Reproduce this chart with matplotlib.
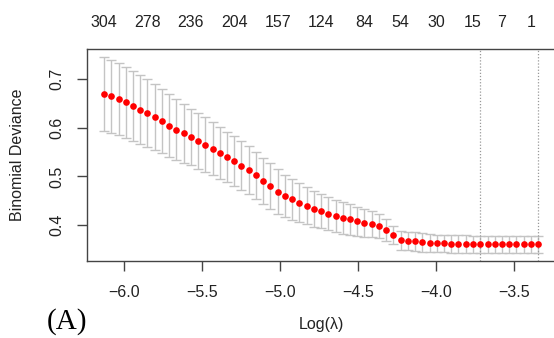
import matplotlib
matplotlib.use("Agg")
import numpy as np
import matplotlib.pyplot as plt

# log(lambda) path of the cv fit
log_lambda = [-6.128, -6.082, -6.035, -5.989, -5.943, -5.896, -5.850, -5.803,
              -5.757, -5.711, -5.664, -5.618, -5.572, -5.525, -5.479, -5.432,
              -5.386, -5.340, -5.293, -5.247, -5.201, -5.154, -5.108, -5.061,
              -5.015, -4.969, -4.922, -4.876, -4.830, -4.783, -4.737, -4.691,
              -4.644, -4.598, -4.551, -4.505, -4.459, -4.412, -4.366, -4.320,
              -4.273, -4.227, -4.181, -4.134, -4.088, -4.041, -3.995, -3.949,
              -3.902, -3.856, -3.810, -3.763, -3.717, -3.670, -3.624, -3.578,
              -3.531, -3.485, -3.439, -3.392, -3.346]

# mean binomial deviance
cvm = [0.669, 0.664, 0.658, 0.652, 0.644, 0.637, 0.630, 0.622, 0.614, 0.604,
       0.596, 0.588, 0.581, 0.573, 0.565, 0.557, 0.548, 0.540, 0.531, 0.522,
       0.513, 0.502, 0.491, 0.480, 0.469, 0.460, 0.453, 0.446, 0.440, 0.434,
       0.429, 0.424, 0.419, 0.415, 0.412, 0.408, 0.405, 0.403, 0.398, 0.390,
       0.380, 0.369, 0.368, 0.367, 0.365, 0.364, 0.363, 0.363, 0.362, 0.362,
       0.362, 0.361, 0.361, 0.361, 0.361, 0.361, 0.361, 0.361, 0.361, 0.361,
       0.361]

# standard error
cvsd = [0.076, 0.075, 0.074, 0.073, 0.072, 0.070, 0.069, 0.068, 0.066, 0.064,
        0.062, 0.060, 0.058, 0.057, 0.056, 0.055, 0.054, 0.052, 0.051, 0.050,
        0.049, 0.048, 0.047, 0.047, 0.046, 0.044, 0.042, 0.040, 0.038, 0.037,
        0.035, 0.034, 0.033, 0.032, 0.031, 0.030, 0.028, 0.027, 0.025, 0.023,
        0.019, 0.019, 0.019, 0.019, 0.019, 0.019, 0.018, 0.018, 0.018, 0.018,
        0.018, 0.018, 0.018, 0.018, 0.018, 0.018, 0.018, 0.018, 0.018, 0.018,
        0.018]

# number of nonzero coefs shown on top axis
nz_idx = [0, 6, 12, 18, 24, 30, 36, 41, 46, 51, 55, 59]
nz_labels = ["304", "278", "236", "204", "157", "124", "84", "54", "30", "15", "7", "1"]

lambda_min = -3.717
lambda_1se = -3.346

x = np.array(log_lambda)
y = np.array(cvm)
se = np.array(cvsd)

plt.rcParams['font.family'] = ['Liberation Sans', 'DejaVu Sans']
fs = 11.5

fig = plt.figure(figsize=(5.54, 3.38), dpi=100)
ax = fig.add_axes([0.1565, 0.228, 0.846, 0.627])

ax.errorbar(x, y, yerr=se, fmt='none', ecolor='#c4c4c4', elinewidth=1.0,
            capsize=3.5, capthick=1.0, zorder=1)
ax.plot(x, y, 'o', color='red', markersize=4.8, markeredgewidth=0, zorder=3)

for v in (lambda_min, lambda_1se):
    ax.axvline(v, color='#999999', linestyle=(0, (1, 1.5)), linewidth=0.9, zorder=2)

ax.set_xlim(-6.239, -3.235)
ax.set_ylim(0.327, 0.761)
ax.set_xticks([-6.0, -5.5, -5.0, -4.5, -4.0, -3.5])
ax.set_xticklabels(["\u22126.0", "\u22125.5", "\u22125.0", "\u22124.5", "\u22124.0", "\u22123.5"])
ax.set_yticks([0.4, 0.5, 0.6, 0.7])
ax.set_yticklabels(["0.4", "0.5", "0.6", "0.7"], rotation=90, va='center')

for s in ax.spines.values():
    s.set_color('#444444')
    s.set_linewidth(1.0)
ax.tick_params(axis='x', length=7, width=1.0, color='#444444',
               labelsize=fs, labelcolor='#222222', pad=10)
ax.tick_params(axis='y', length=7, width=1.0, color='#444444',
               labelsize=fs, labelcolor='#222222', pad=9)

top = ax.secondary_xaxis('top')
top.set_xticks([log_lambda[i] for i in nz_idx])
top.set_xticklabels(nz_labels)
top.tick_params(length=0, labelsize=fs, labelcolor='#222222', pad=14)
top.spines['top'].set_visible(False)

fig.text(18 / 554, 1 - 155 / 338, "Binomial Deviance", fontsize=fs, color='#222222',
         rotation=90, ha='center', va='center')
fig.text(321 / 554, 1 - 325 / 338, "Log(\u03bb)", fontsize=fs, color='#222222',
         ha='center', va='center')

fig.text(67 / 554, 1 - 322 / 338, "(A)", family='Liberation Serif', fontsize=21,
         color='black', ha='center', va='center')

fig.savefig("out.png", dpi=100)
